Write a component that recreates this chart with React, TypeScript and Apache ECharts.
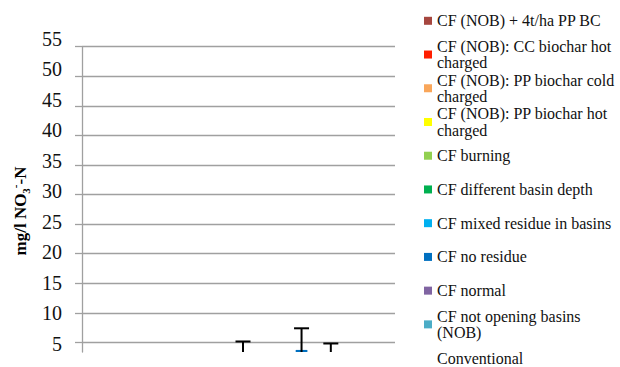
import React, { useEffect, useRef } from "react";
import * as echarts from "echarts";

const categories = [
  "CF (NOB) + 4t/ha PP BC",
  "CF (NOB): CC biochar hot charged",
  "CF (NOB): PP biochar cold charged",
  "CF (NOB): PP biochar hot charged",
  "CF burning",
  "CF different basin depth",
  "CF mixed residue in basins",
  "CF no residue",
  "CF normal",
  "CF not opening basins (NOB)",
  "Conventional",
];

const legendLabels = [
  "CF (NOB) + 4t/ha PP BC",
  "CF (NOB): CC biochar hot\ncharged",
  "CF (NOB): PP biochar cold\ncharged",
  "CF (NOB): PP biochar hot\ncharged",
  "CF burning",
  "CF different basin depth",
  "CF mixed residue in basins",
  "CF no residue",
  "CF normal",
  "CF not opening basins\n(NOB)",
  "Conventional",
];

const meanValues = [1.4, 1.2, 1.0, 1.1, 1.6, 2.6, 1.3, 3.7, 2.4, 1.5, 1.8];
const errorValues = [0.6, 0.5, 0.4, 0.5, 0.8, 2.53, 0.7, 3.66, 2.39, 0.6, 0.9];

const colors = [
  "#A6463F",
  "#FF1E00",
  "#F9A65A",
  "#FFFF00",
  "#92D050",
  "#00B050",
  "#00B0F0",
  "#0070C0",
  "#8064A2",
  "#4BACC6",
  "#2C4D75",
];

const yMin = 0;
const yMax = 55;
const yInterval = 5;

const FONT = "'Liberation Serif', 'Times New Roman', serif";

export default function App() {
  const ref = useRef<HTMLDivElement>(null);

  useEffect(() => {
    if (!ref.current) return;
    const chart = echarts.init(ref.current, undefined, { renderer: "svg" });

    const lh = 16.5;
    const legends = categories.map((name, i) => {
      const lines = legendLabels[i].split("\n").length;
      const c = 20.8 + 33.73 * i;
      const top = c - ((2 * lines - 1) * lh) / 2;
      const hidden = name === "Conventional";
      const lg: any = {
        left: 424,
        top,
        padding: 0,
        orient: "vertical",
        icon: "rect",
        itemWidth: 8,
        itemHeight: 8,
        selectedMode: false,
        data: [name],
        formatter: () => legendLabels[i],
        textStyle: {
          fontFamily: FONT,
          fontSize: 16,
          color: "#111",
          lineHeight: lh,
          padding: [(lines - 1) * lh, 0, 0, 0],
        },
      };
      lg.itemStyle = hidden
        ? { color: "rgba(0,0,0,0)", borderWidth: 0 }
        : { color: colors[i], borderWidth: 0 };
      return lg;
    });

    const barSeries = categories.map((name, i) => ({
      name,
      type: "bar",
      stack: "total",
      xAxisIndex: 0,
      yAxisIndex: 0,
      barCategoryGap: "60%",
      itemStyle: { color: colors[i] },
      data: categories.map((_, j) => (j === i ? meanValues[i] : null)),
      clip: true,
    }));

    const errorSeries = {
      type: "custom",
      xAxisIndex: 0,
      yAxisIndex: 0,
      clip: true,
      z: 5,
      encode: { x: 0, y: [1, 2] },
      data: categories.map((_, i) => [
        i,
        meanValues[i] - errorValues[i],
        meanValues[i] + errorValues[i],
      ]),
      renderItem: (_params: any, api: any) => {
        const x = api.value(0);
        const lo = api.coord([x, api.value(1)]);
        const hi = api.coord([x, api.value(2)]);
        const hw = 7.5;
        const style = { stroke: "#000", lineWidth: 2 };
        return {
          type: "group",
          children: [
            { type: "line", shape: { x1: hi[0], y1: hi[1], x2: lo[0], y2: lo[1] }, style },
            { type: "line", shape: { x1: hi[0] - hw, y1: hi[1], x2: hi[0] + hw, y2: hi[1] }, style },
            { type: "line", shape: { x1: lo[0] - hw, y1: lo[1], x2: lo[0] + hw, y2: lo[1] }, style },
          ],
        };
      },
    };

    chart.setOption({
      animation: false,
      backgroundColor: "#fff",
      grid: [
        { left: 82, right: 216, top: 46.7, bottom: 48 },
        { left: 82, right: 225, top: 46.7, bottom: 28.1 },
        { left: 82, right: 225, top: 38.5, bottom: 26 },
      ],
      xAxis: [
        { type: "category", gridIndex: 0, data: categories, show: false },
        { type: "category", gridIndex: 1, data: categories, show: false },
        { type: "category", gridIndex: 2, data: categories, show: false },
      ],
      yAxis: [
        {
          type: "value",
          gridIndex: 0,
          min: 3.35,
          max: yMax,
          axisLine: { show: true, lineStyle: { color: "#A0A0A0", width: 1.3 } },
          axisTick: { show: false },
          axisLabel: { show: false },
          splitLine: { show: false },
        },
        {
          type: "value",
          gridIndex: 1,
          min: yMin,
          max: yMax,
          interval: yInterval,
          axisLine: { show: false },
          axisTick: { show: true, length: 7, lineStyle: { color: "#A0A0A0", width: 1.3 } },
          axisLabel: { show: false },
          splitLine: { show: true, lineStyle: { color: "#A0A0A0", width: 1.3 } },
        },
        {
          type: "value",
          gridIndex: 2,
          min: yMin,
          max: yMax,
          interval: yInterval,
          axisLine: { show: false },
          axisTick: { show: false },
          splitLine: { show: false },
          axisLabel: {
            show: true,
            showMinLabel: false,
            margin: 20,
            fontFamily: FONT,
            fontSize: 20,
            color: "#111",
          },
        },
      ],
      legend: legends,
      graphic: [
        {
          type: "text",
          x: 20,
          y: 211,
          rotation: Math.PI / 2,
          style: {
            text: "{b|mg/l NO}{sub|3}{sup|-}{b|-N}",
            align: "center",
            verticalAlign: "middle",
            rich: {
              b: { fontFamily: FONT, fontSize: 17, fontWeight: "bold", fill: "#000", lineHeight: 22 },
              sub: { fontFamily: FONT, fontSize: 11, fontWeight: "bold", fill: "#000", lineHeight: 12, verticalAlign: "bottom" },
              sup: { fontFamily: FONT, fontSize: 11, fontWeight: "bold", fill: "#000", lineHeight: 12, verticalAlign: "top" },
            },
          },
        },
      ],
      series: [...barSeries, errorSeries],
    });

    return () => chart.dispose();
  }, []);

  return (
    <div
      style={{
        position: "absolute",
        left: 0,
        top: 0,
        width: 620,
        height: 367,
        overflow: "hidden",
        background: "#fff",
      }}
    >
      <div ref={ref} style={{ width: 620, height: 400 }} />
    </div>
  );
}
